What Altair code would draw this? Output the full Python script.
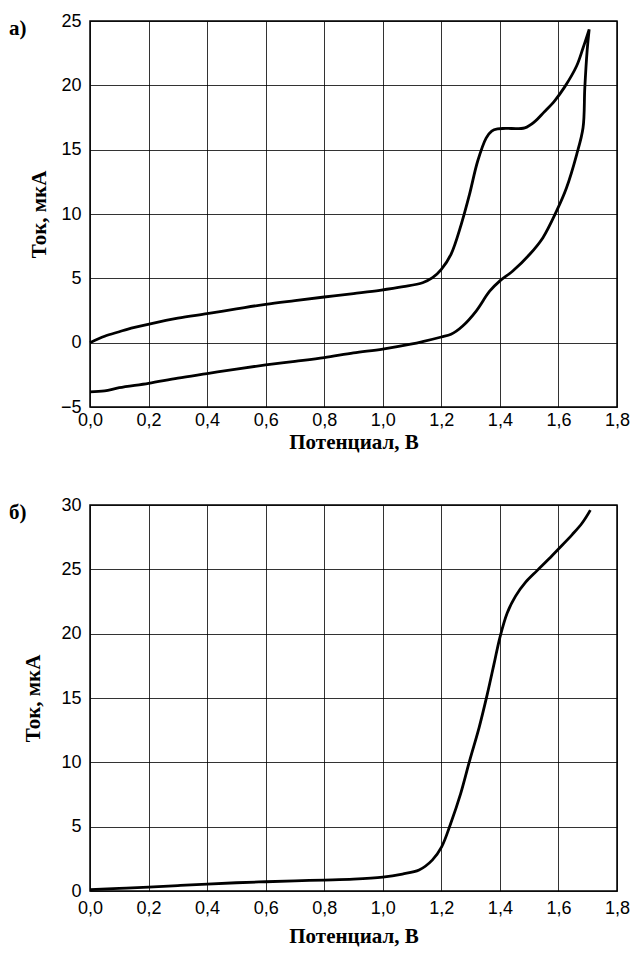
import altair as alt
import pandas as pd

# ---- Panel а) cyclic voltammogram (forward and reverse branches) ----
top_fwd_v = [0.0, 0.05, 0.1, 0.13, 0.2, 0.3, 0.4, 0.5, 0.6, 0.7, 0.8, 0.9, 0.99, 1.07, 1.136, 1.17, 1.2,
             1.233, 1.268, 1.296, 1.324, 1.353, 1.372, 1.392, 1.42, 1.485, 1.52, 1.55, 1.587, 1.622, 1.662, 1.684, 1.705]
top_fwd_i = [0.0, 0.5, 0.85, 1.06, 1.43, 1.9, 2.25, 2.62, 2.98, 3.27, 3.55, 3.82, 4.07, 4.35, 4.66, 5.05, 5.7,
             6.87, 9.2, 11.5, 14.1, 15.9, 16.45, 16.62, 16.65, 16.7, 17.2, 17.9, 18.8, 19.9, 21.5, 22.9, 24.35]
top_rev_v = [1.705, 1.698, 1.69, 1.684, 1.662, 1.627, 1.593, 1.547, 1.502, 1.444, 1.4, 1.365, 1.319, 1.273,
             1.233, 1.2, 1.136, 1.1, 1.0, 0.9, 0.8, 0.7, 0.6, 0.5, 0.4, 0.3, 0.2, 0.1, 0.05, 0.0]
top_rev_i = [24.35, 22.7, 19.8, 16.7, 14.6, 12.0, 10.2, 8.16, 6.87, 5.57, 4.8, 4.0, 2.46, 1.30,
             0.65, 0.44, 0.08, -0.1, -0.5, -0.8, -1.16, -1.45, -1.73, -2.05, -2.4, -2.75, -3.16, -3.5, -3.75, -3.83]

# ---- Panel б) anodic polarisation curve ----
bot_v = [0.0, 0.1, 0.2, 0.3, 0.4, 0.5, 0.6, 0.7, 0.8, 0.9, 1.0, 1.067, 1.124, 1.169, 1.201, 1.232, 1.266,
         1.297, 1.329, 1.357, 1.38, 1.4, 1.425, 1.453, 1.488, 1.527, 1.567, 1.601, 1.647, 1.681, 1.709]
bot_i = [0.1, 0.2, 0.3, 0.42, 0.54, 0.64, 0.72, 0.79, 0.85, 0.92, 1.08, 1.32, 1.63, 2.4, 3.43, 5.25, 7.57,
         10.16, 12.7, 15.3, 17.65, 19.7, 21.6, 22.9, 24.0, 24.9, 25.8, 26.6, 27.7, 28.6, 29.6]

x_ticks = [0.0, 0.2, 0.4, 0.6, 0.8, 1.0, 1.2, 1.4, 1.6, 1.8]
top_y_ticks = [-5, 0, 5, 10, 15, 20, 25]
bot_y_ticks = [0, 5, 10, 15, 20, 25, 30]

x_title = "Потенциал, В"
y_title = "Ток, мкА"
labels = ["а)", "б)"]

top_v = top_fwd_v + top_rev_v
top_i = top_fwd_i + top_rev_i
top_df = pd.DataFrame({"v": top_v, "i": top_i, "o": list(range(len(top_v)))})
bot_df = pd.DataFrame({"v": bot_v, "i": bot_i, "o": list(range(len(bot_v)))})

LABEL_FONT = "Liberation Sans"
TITLE_FONT = "Liberation Serif"
W = 527
H = 386


def panel(df, ydom, yticks, label, lab_pad_x, title_pad_x, title_pad_y):
    xaxis = alt.Axis(values=x_ticks, title=x_title,
                     labelExpr="replace(format(datum.value, '.1f'), '.', ',')",
                     labelFlush=False,
                     labelPadding=lab_pad_x, titlePadding=title_pad_x)
    yaxis = alt.Axis(values=yticks, title=y_title, labelPadding=9, labelFlush=False,
                     titlePadding=title_pad_y)
    line = alt.Chart(df).mark_line(color="black", strokeWidth=2.8, interpolate="catmull-rom").encode(
        x=alt.X("v:Q", scale=alt.Scale(domain=[0, 1.8], nice=False), axis=xaxis),
        y=alt.Y("i:Q", scale=alt.Scale(domain=ydom, nice=False), axis=yaxis),
        order="o:Q",
    )
    lab = alt.Chart(pd.DataFrame({"t": [label]})).mark_text(
        font=TITLE_FONT, fontWeight="bold", fontSize=21, align="left", baseline="alphabetic", color="black"
    ).encode(text="t:N", x=alt.value(-81), y=alt.value(14))
    return alt.layer(line, lab).properties(width=W, height=H)


top = panel(top_df, [-5, 25], top_y_ticks, labels[0], 4, 2, 11)
bot = panel(bot_df, [0, 30], bot_y_ticks, labels[1], 8, 8, 17)

chart = alt.vconcat(top, bot, spacing=98, bounds="flush").properties(
    padding={"left": 8, "top": 11, "right": 0, "bottom": 0},
    background="white",
).configure_view(stroke="black", strokeWidth=1.5).configure_axis(
    domain=False, ticks=False, grid=True, gridColor="black", gridOpacity=0.8, gridWidth=1,
    labelFont=LABEL_FONT, labelFontSize=18, labelColor="black",
    titleFont=TITLE_FONT, titleFontSize=21, titleFontWeight="bold", titleColor="black",
)

chart.save("out.html", embed_options={"renderer": "svg", "actions": False})
